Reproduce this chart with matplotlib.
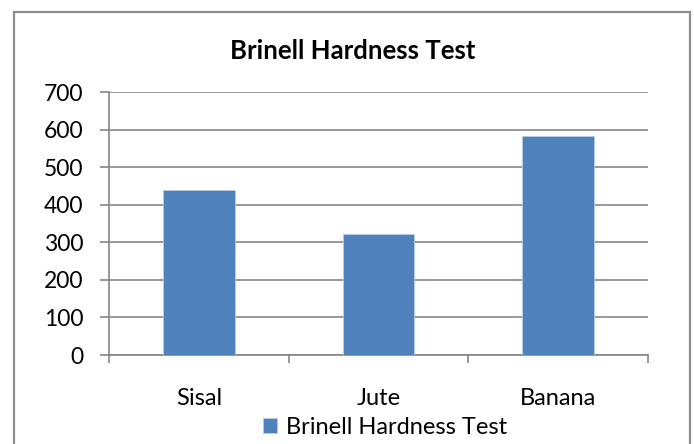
import matplotlib
matplotlib.use("Agg")
import matplotlib.pyplot as plt
from matplotlib.patches import Rectangle
import numpy as np

categories = ["Sisal", "Jute", "Banana"]
hardness = [440, 322, 583]
series_name = "Brinell Hardness Test"
yticks = [0, 100, 200, 300, 400, 500, 600, 700]

plt.rcParams['font.family'] = ['Lato', 'DejaVu Sans']
grid_col = '#868686'
bar_col = '#4F81BD'

fig = plt.figure(figsize=(6.94, 4.44), dpi=100)
ax = fig.add_axes([109 / 694, 1 - 355 / 444, 539 / 694, 263 / 444])

x = np.arange(len(categories))
ax.bar(x, hardness, width=0.4, color=bar_col, edgecolor='#B9CDE5', linewidth=0.6,
       label=series_name, zorder=3)

ax.set_xlim(-0.5, len(categories) - 0.5)
ax.set_ylim(0, 700)
ax.set_yticks(yticks)
ax.set_yticklabels([str(v) for v in yticks], fontsize=16.5)
ax.yaxis.grid(True, color=grid_col, linewidth=1.2, zorder=0)

ax.set_xticks(x)
ax.set_xticklabels(categories, fontsize=17)
ax.tick_params(axis='x', length=0, pad=24)
ax.set_xticks(np.arange(len(categories) + 1) - 0.5, minor=True)
ax.tick_params(axis='x', which='minor', length=6, color=grid_col, width=1.2)
ax.tick_params(axis='y', length=6.5, color=grid_col, width=1.2, pad=12)

for side in ['top', 'right']:
    ax.spines[side].set_visible(False)
for side in ['left', 'bottom']:
    ax.spines[side].set_color(grid_col)
    ax.spines[side].set_linewidth(1.2)

fig.text(353 / 694, 1 - 51 / 444, "Brinell Hardness Test", ha='center', va='center',
         fontsize=18.5, fontweight='bold')

fig.legend(loc='center', bbox_to_anchor=(385 / 694, 1 - 427 / 444), frameon=False,
           fontsize=17, handlelength=0.6, handleheight=0.6, handletextpad=0.4,
           borderpad=0, borderaxespad=0)

fig.patches.append(Rectangle((14 / 694, -0.05), 676 / 694, 1 - 12 / 444 + 0.05,
                             transform=fig.transFigure, fill=False,
                             edgecolor='#8C8C8C', linewidth=1.6))

fig.savefig("out.png", dpi=100)
